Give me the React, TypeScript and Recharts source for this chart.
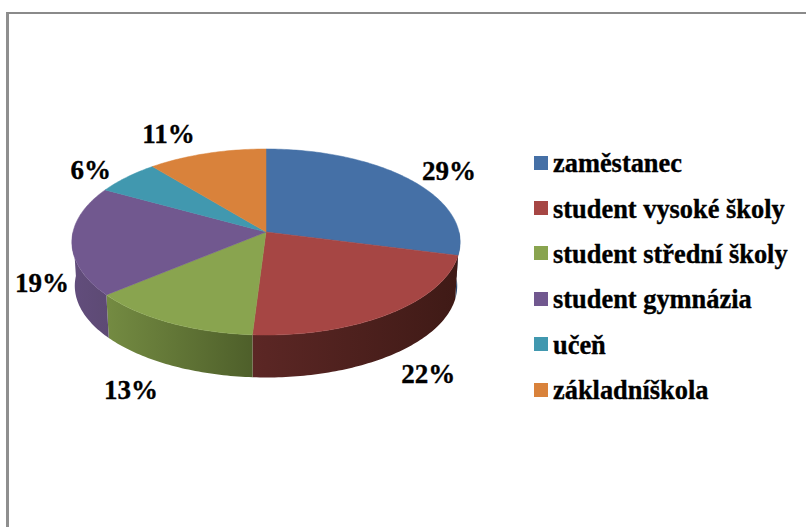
import React from 'react';
import { PieChart, Pie, Legend } from 'recharts';

const categories = ['zaměstanec', 'student vysoké školy', 'student střední školy', 'student gymnázia', 'učeň', 'základníškola'];
const shares = [29, 22, 13, 19, 6, 11];
const topColors = ['#4570A6', '#A64644', '#89A44F', '#71588F', '#4198AF', '#D9823B'];
const sideFrom = ['#2f4d73', '#5c2725', '#748B42', '#624D7C', '#37818f', '#b06a30'];
const sideTo = ['#2a4568', '#3F1A16', '#4E5F2A', '#5D4A74', '#37818f', '#b06a30'];
const labelNudges = [[40, -8], [38, 60.6], [-38, 67.4], [-30, 42.3], [-36, -7], [-38, -19.5]];

const rows = categories.map((name, i) => ({ name, value: shares[i], fill: topColors[i] }));

const FONT = '"Liberation Serif", "Times New Roman", serif';
const PERSPECTIVE = 0.1075;
const SQUASH = 0.4764;
const DEPTH = 44;
const BOTTOM_SCALE = 0.985;

const project = (cx: number, cy: number, r: number, deg: number, depth = 0, scale = 1) => {
  const t = (deg * Math.PI) / 180;
  const w = 1 + PERSPECTIVE * Math.sin(t);
  return {
    x: cx + (r * scale * Math.cos(t)) / w,
    y: cy + depth - (r * scale * SQUASH * Math.sin(t)) / w,
  };
};

const arcPoints = (cx: number, cy: number, r: number, from: number, to: number, depth = 0, scale = 1) => {
  const pts: { x: number; y: number }[] = [];
  const n = Math.max(2, Math.ceil(Math.abs(to - from)));
  for (let i = 0; i <= n; i++) pts.push(project(cx, cy, r, from + ((to - from) * i) / n, depth, scale));
  return pts;
};

const toPath = (pts: { x: number; y: number }[]) =>
  pts.map((p, i) => `${i ? 'L' : 'M'}${p.x.toFixed(2)},${p.y.toFixed(2)}`).join(' ');

const Slice = (props: any) => {
  const { cx, cy, outerRadius, startAngle, endAngle, fill } = props;
  const index = topColors.indexOf(fill);
  const hi = Math.max(startAngle, endAngle);
  const lo = Math.min(startAngle, endAngle);
  const ranges: [number, number][] = [];
  for (const shift of [0, -360]) {
    const a = Math.min(hi + shift, 0);
    const b = Math.max(lo + shift, -180);
    if (a > b) ranges.push([a, b]);
  }
  const gradId = `side-${index}`;
  const top = arcPoints(cx, cy, outerRadius, startAngle, endAngle);
  return (
    <g>
      <defs>
        <linearGradient id={gradId} x1="0" y1="0" x2="1" y2="0">
          <stop offset="0%" stopColor={sideFrom[index]} />
          <stop offset="100%" stopColor={sideTo[index]} />
        </linearGradient>
      </defs>
      {ranges.map(([a, b], k) => {
        const upper = arcPoints(cx, cy, outerRadius, a, b);
        const lower = arcPoints(cx, cy, outerRadius, b, a, DEPTH, BOTTOM_SCALE);
        return <path key={k} d={`${toPath(upper)} ${toPath(lower).replace('M', 'L')} Z`} fill={`url(#${gradId})`} />;
      })}
      <path d={`M${cx},${cy} ${toPath(top).replace('M', 'L')} Z`} fill={fill} stroke={fill} strokeWidth={0.5} />
    </g>
  );
};

const renderLabel = (props: any) => {
  const { cx, cy, outerRadius, midAngle, index, value } = props;
  const anchor = project(cx, cy, outerRadius, midAngle);
  const [dx, dy] = labelNudges[index];
  return (
    <text
      key={index}
      x={anchor.x + dx}
      y={anchor.y + dy}
      textAnchor="middle"
      dominantBaseline="central"
      fontFamily={FONT}
      fontWeight="bold"
      fontSize={27}
      fill="#000"
      stroke="#000"
      strokeWidth={0.35}
    >
      {`${value}%`}
    </text>
  );
};

const renderLegend = (props: any) => (
  <div style={{ fontFamily: FONT, fontWeight: 'bold', fontSize: 26.4, color: '#000', WebkitTextStroke: '0.35px #000' }}>
    {(props.payload ?? []).map((item: any) => (
      <div key={item.value} style={{ height: 45.4, display: 'flex', alignItems: 'center', whiteSpace: 'nowrap' }}>
        <span style={{ width: 14, height: 14, background: item.color, marginRight: 5, flex: 'none' }} />
        <span style={{ position: 'relative', top: 1 }}>{item.value}</span>
      </div>
    ))}
  </div>
);

export default function App() {
  return (
    <div style={{ position: 'absolute', left: 0, top: 0, width: 806, height: 527, overflow: 'hidden', background: '#fff' }}>
      <div
        style={{
          position: 'absolute',
          left: 6,
          top: 12,
          width: 800,
          height: 515,
          boxSizing: 'border-box',
          borderLeft: '3px solid #8f8f8f',
          borderTop: '2px solid #8a8a8a',
        }}
      />
      <PieChart width={806} height={527} margin={{ top: 0, right: 0, bottom: 0, left: 0 }} style={{ position: 'absolute', left: 0, top: 0 }}>
        <Legend
          content={renderLegend}
          layout="vertical"
          verticalAlign="top"
          align="right"
          itemSorter={null}
          wrapperStyle={{ position: 'absolute', left: 534, top: 140, right: 'auto', width: 272 }}
        />
        <Pie
          data={rows}
          dataKey="value"
          nameKey="name"
          cx={266}
          cy={232}
          outerRadius={193}
          startAngle={90}
          endAngle={-270}
          stroke="none"
          shape={Slice}
          label={renderLabel}
          labelLine={false}
          isAnimationActive={false}
        />
      </PieChart>
    </div>
  );
}
